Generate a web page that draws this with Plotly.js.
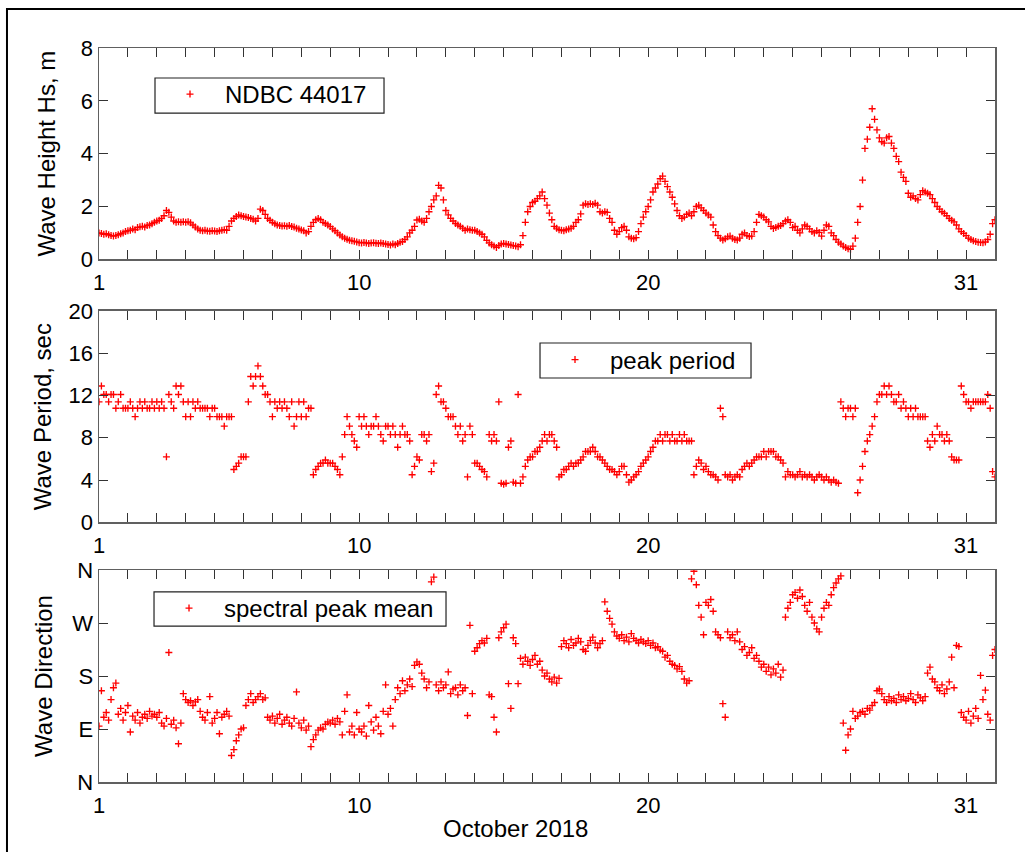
<!DOCTYPE html>
<html><head><meta charset="utf-8">
<script src="https://cdn.plot.ly/plotly-3.0.1.min.js"></script>
<style>html,body{margin:0;padding:0;background:#fff;} #chart{width:1025px;height:852px;}</style>
</head><body><div id="chart"></div>
<script>
// Sampling: first sample at day 1 (Oct 1, 00:00), one sample every 2 hours
const startDay = 1;
const stepHours = 2;

// Significant wave height, m (12 samples per day)
const hsValues = [
1.00,0.98,0.95,0.97,0.93,0.90,0.88,0.90,0.93,0.97,1.00,1.05,
1.08,1.10,1.15,1.12,1.20,1.23,1.25,1.22,1.28,1.30,1.35,1.40,
1.45,1.48,1.55,1.65,1.85,1.78,1.60,1.45,1.40,1.42,1.40,1.42,
1.40,1.42,1.38,1.30,1.22,1.15,1.10,1.08,1.10,1.07,1.06,1.08,
1.07,1.05,1.08,1.10,1.12,1.10,1.25,1.45,1.55,1.62,1.68,1.65,
1.62,1.60,1.58,1.55,1.52,1.45,1.55,1.90,1.85,1.70,1.55,1.48,
1.40,1.35,1.30,1.28,1.26,1.27,1.25,1.28,1.24,1.22,1.18,1.15,
1.11,1.08,1.00,1.05,1.25,1.40,1.50,1.55,1.50,1.40,1.36,1.30,
1.24,1.15,1.08,1.00,0.92,0.85,0.80,0.76,0.72,0.70,0.68,0.66,
0.63,0.62,0.64,0.62,0.60,0.62,0.63,0.61,0.60,0.62,0.60,0.58,
0.56,0.54,0.58,0.55,0.60,0.65,0.67,0.75,0.85,1.00,1.10,1.25,
1.49,1.52,1.45,1.40,1.55,1.80,2.00,2.25,2.40,2.80,2.70,2.25,
1.85,1.68,1.55,1.45,1.36,1.30,1.25,1.18,1.10,1.15,1.12,1.10,
1.10,1.05,1.00,0.95,0.85,0.72,0.62,0.55,0.50,0.45,0.52,0.58,
0.60,0.58,0.56,0.54,0.52,0.50,0.48,0.55,0.90,1.40,1.80,2.00,
2.15,2.20,2.30,2.40,2.55,2.30,2.05,1.75,1.50,1.25,1.18,1.12,
1.10,1.08,1.12,1.15,1.18,1.25,1.40,1.50,1.72,2.05,2.10,2.08,
2.10,2.08,2.12,2.05,1.80,1.75,1.80,1.78,1.55,1.40,1.10,0.95,
1.05,1.20,1.25,1.10,0.85,0.80,0.78,0.82,1.05,1.35,1.60,1.80,
2.00,2.25,2.55,2.70,2.85,3.05,3.15,2.95,2.75,2.55,2.35,2.10,
1.85,1.65,1.55,1.60,1.70,1.75,1.65,1.80,2.00,2.05,1.95,1.85,
1.75,1.68,1.60,1.30,1.05,0.90,0.80,0.73,0.78,0.85,0.88,0.80,
0.75,0.73,0.80,0.95,1.00,0.90,0.86,0.88,1.05,1.40,1.70,1.65,
1.60,1.50,1.42,1.25,1.17,1.20,1.25,1.28,1.35,1.45,1.50,1.40,
1.20,1.25,1.10,1.00,1.15,1.30,1.25,1.15,1.05,1.00,1.08,1.02,
0.88,1.10,1.30,1.25,1.00,0.90,0.75,0.65,0.58,0.50,0.45,0.40,
0.38,0.50,0.80,1.40,2.00,3.00,4.20,4.55,5.00,5.70,5.30,4.90,
4.60,4.45,4.40,4.60,4.65,4.40,4.20,3.90,3.70,3.30,3.10,2.95,
2.50,2.35,2.40,2.30,2.25,2.45,2.60,2.55,2.50,2.45,2.30,2.15,
2.00,1.90,1.80,1.74,1.65,1.55,1.48,1.42,1.30,1.15,1.05,0.98,
0.90,0.80,0.75,0.70,0.67,0.65,0.64,0.63,0.66,0.75,0.95,1.35,
1.50];

// Peak wave period, s (12 samples per day)
const periodValues = [
11.4,12.9,12.1,12.1,11.4,12.1,12.1,10.8,11.4,12.1,10.8,10.8,
10.8,11.4,10.8,10.0,10.8,11.4,10.8,11.4,10.8,10.8,11.4,10.8,
11.4,10.8,11.4,10.8,6.2,12.1,11.4,10.8,12.9,12.1,12.9,11.4,
10.0,11.4,10.0,11.4,10.8,11.4,10.8,10.8,10.8,10.8,10.0,10.8,
10.8,10.0,10.0,10.0,9.1,10.0,10.0,10.0,5.0,5.3,5.6,6.2,
6.2,6.2,11.4,13.8,12.9,13.8,14.8,13.8,12.9,12.1,12.1,11.4,
10.0,11.4,10.8,11.4,10.8,11.4,10.8,10.0,11.4,9.1,10.0,11.4,
10.0,11.4,10.0,10.8,10.8,4.5,5.0,5.3,5.6,5.6,5.9,5.6,
5.6,5.6,5.3,5.0,4.5,6.2,8.3,10.0,9.1,8.3,7.7,7.1,
10.0,9.1,10.0,9.1,8.3,9.1,9.1,10.0,9.1,8.3,7.7,9.1,
9.1,8.3,9.1,8.3,7.1,8.3,9.1,8.3,8.3,7.7,4.5,5.3,
6.2,5.9,8.3,8.3,7.7,8.3,4.8,5.6,12.1,12.9,11.4,11.4,
10.8,10.0,10.0,10.0,9.1,8.3,9.1,7.7,8.3,4.3,9.1,8.3,
5.6,5.6,5.3,5.0,4.8,4.3,8.3,7.7,8.3,7.7,11.4,3.7,
3.6,3.7,7.1,7.7,3.8,3.7,12.1,3.7,4.3,5.3,5.9,6.2,
6.2,6.7,6.7,7.1,7.7,8.3,7.7,8.3,8.3,7.7,7.1,4.3,
4.5,5.0,5.0,5.3,5.6,5.3,5.6,5.6,5.9,6.2,6.7,6.7,
6.7,7.1,6.7,6.2,6.2,5.9,5.6,5.3,5.0,5.0,4.8,4.5,
4.8,5.3,5.3,4.5,3.8,4.0,4.3,4.5,4.8,5.3,5.6,5.9,
6.2,6.7,7.1,7.7,7.7,8.3,7.7,8.3,8.3,7.7,8.3,7.7,
7.7,8.3,7.7,8.3,7.7,7.7,7.7,4.5,5.3,5.9,5.6,5.0,
5.3,4.8,4.5,4.5,4.3,4.0,10.8,10.0,4.5,4.3,4.5,4.0,
4.3,4.5,4.3,5.0,5.3,5.6,5.3,5.6,5.9,6.2,6.2,6.2,
6.7,6.2,6.7,6.7,6.7,6.2,6.2,5.9,5.6,4.3,4.8,4.5,
4.5,4.3,4.5,4.8,4.3,4.5,4.3,4.5,4.3,4.0,4.3,4.5,
4.3,4.0,4.3,4.0,3.8,4.0,3.8,3.7,11.4,10.8,10.0,10.8,
10.8,10.0,10.8,2.8,4.0,5.3,6.7,7.7,8.3,9.1,10.0,11.4,
12.1,12.1,12.9,12.1,12.9,12.1,11.4,11.4,12.1,10.8,11.4,10.8,
10.0,10.8,10.0,10.8,10.0,10.0,10.0,10.0,7.7,7.1,8.3,7.7,
9.1,8.3,8.3,7.7,8.3,7.7,6.2,5.9,5.9,5.9,12.9,12.1,
11.4,11.4,10.8,11.4,11.4,11.4,11.4,11.4,11.4,12.1,10.8,4.8,
4.3];

// Spectral peak mean direction, degrees from N (12 samples per day)
const directionValues = [
95,155,110,118,105,140,160,168,115,125,105,118,
130,85,112,105,118,100,110,115,108,120,112,115,
110,118,100,95,108,220,98,105,92,65,100,150,
140,135,138,130,136,140,120,110,105,118,145,100,
108,118,82,110,115,120,112,45,55,70,80,90,
92,130,140,150,135,140,145,150,140,143,110,105,
112,100,108,115,98,105,110,100,95,108,153,100,
92,105,88,95,60,72,80,88,92,90,98,102,
100,105,98,108,102,80,120,148,85,95,80,118,
90,85,95,78,130,102,88,110,95,82,120,165,
115,125,95,140,160,150,172,155,165,175,162,198,
204,200,185,175,160,170,340,348,165,155,170,160,
165,187,150,158,160,148,165,155,160,113,266,150,
222,228,235,240,236,244,148,145,110,85,245,255,
262,268,167,125,245,235,167,210,200,212,205,198,
208,215,200,205,190,180,185,175,170,178,168,176,
230,240,235,228,242,232,236,244,238,225,222,232,
240,246,236,228,235,240,306,290,278,268,255,248,
244,250,240,246,238,252,244,240,236,242,238,235,
240,232,236,228,230,224,222,212,215,205,200,198,
192,196,188,175,168,172,345,358,335,300,280,250,
305,300,310,290,255,250,245,133,110,255,245,250,
240,255,238,225,230,215,220,228,210,215,205,195,
200,188,195,182,192,185,200,178,190,280,295,305,
318,322,312,326,315,300,290,305,280,270,260,255,
280,295,305,300,318,330,338,345,350,100,54,80,
90,120,108,112,118,120,115,125,122,130,135,155,
158,150,140,135,145,138,142,135,148,140,145,138,
142,150,140,135,148,143,138,145,185,195,175,170,
160,155,165,150,158,170,212,160,232,230,118,110,
105,120,100,112,125,108,181,140,156,115,105,215,
225];

const dayTickVals = [1,2,3,4,5,6,7,8,9,10,11,12,13,14,15,16,17,18,19,20,21,22,23,24,25,26,27,28,29,30,31];
const dayTickText = ['1','','','','','','','','','10','','','','','','','','','','20','','','','','','','','','','','31'];
const heightTicks = [0,2,4,6,8];
const periodTicks = [0,4,8,12,16,20];
const dirTickVals = [0,90,180,270,360];
const dirTickText = ['N','E','S','W','N'];
const seriesNames = ['NDBC 44017','peak period','spectral peak mean'];
const yTitles = ['Wave Height Hs, m','Wave Period, sec','Wave Direction'];
const xTitle = 'October 2018';

function timeAxis(vals){ return vals.map((_, i) => startDay + i * stepHours / 24); }

const FONT = 'Liberation Sans, Arial, Helvetica, sans-serif';
const marker = {symbol:'cross-thin-open', size:5, color:'#ff0000', line:{width:1.35, color:'#ff0000'}};

const traces = [
  {x: timeAxis(hsValues), y: hsValues, name: seriesNames[0], type:'scatter', mode:'markers', marker, xaxis:'x', yaxis:'y', legend:'legend'},
  {x: timeAxis(periodValues), y: periodValues, name: seriesNames[1], type:'scatter', mode:'markers', marker, xaxis:'x2', yaxis:'y2', legend:'legend2'},
  {x: timeAxis(directionValues), y: directionValues, name: seriesNames[2], type:'scatter', mode:'markers', marker, xaxis:'x3', yaxis:'y3', legend:'legend3'}
];

const axisCommon = {showline:true, linecolor:'#606060', linewidth:1.5, mirror:'ticks', ticks:'inside', ticklen:9, tickwidth:1, tickcolor:'#333',
  showgrid:false, zeroline:false, tickfont:{family:FONT, size:22, color:'#000'}, fixedrange:true};
function xAx(anchor){ return Object.assign({}, axisCommon, {anchor, range:[1,32], tickmode:'array', tickvals:dayTickVals, ticktext:dayTickText, ticklabelstandoff:3}); }
function yAx(domain, range, tickvals, ticktext, title, standoff){
  return Object.assign({}, axisCommon, {domain, range, tickmode:'array', tickvals, ticktext: ticktext || tickvals.map(String),
    title:{text:title, font:{family:FONT, size:24, color:'#000'}, standoff}});
}
const legendCommon = {xanchor:'left', yanchor:'top', bgcolor:'rgba(0,0,0,0)', borderwidth:0,
  font:{family:FONT, size:24, color:'#000'}, itemwidth:60};

// legend frames (drawn as boxes so their size matches the original)
function legendBox(x0, x1, y0, y1){
  return {type:'rect', xref:'paper', yref:'paper', x0, x1, y0, y1, fillcolor:'#fff', line:{color:'#222', width:1.2}, layer:'above'};
}

const layout = {
  width:1025, height:852, paper_bgcolor:'#fff', plot_bgcolor:'#fff',
  margin:{l:99, r:30, t:48, b:70},
  font:{family:FONT, color:'#000'},
  showlegend:true,
  xaxis: xAx('y'), xaxis2: xAx('y2'), xaxis3: xAx('y3'),
  yaxis: yAx([0.7121,1], [0,8], heightTicks, null, yTitles[0], 18),
  yaxis2: yAx([0.3538,0.6417], [0,20], periodTicks, null, yTitles[1], 10),
  yaxis3: yAx([0,0.2888], [0,360], dirTickVals, dirTickText, yTitles[2], 13),
  legend: Object.assign({}, legendCommon, {x:0.0625, y:0.9673}),
  legend2: Object.assign({}, legendCommon, {x:0.4922, y:0.6056}),
  legend3: Object.assign({}, legendCommon, {x:0.0614, y:0.2670}),
  annotations:[{text:xTitle, xref:'paper', yref:'paper', x:0.4643, y:-0.0627, xanchor:'center', yanchor:'middle', showarrow:false,
    font:{family:FONT, size:24, color:'#000'}}],
  shapes:[
    legendBox(0.0625, 0.3181, 0.9114, 0.9591),
    legendBox(0.4922, 0.7277, 0.5504, 0.5981),
    legendBox(0.0614, 0.3873, 0.2125, 0.2589),
    {type:'rect', xref:'paper', yref:'paper', x0:-0.1027, x1:1.1, y0:-0.11, y1:1.0531, line:{color:'#000', width:2}, layer:'above'}
  ]
};

Plotly.newPlot('chart', traces, layout, {displayModeBar:false, staticPlot:true});
</script>
</body></html>
